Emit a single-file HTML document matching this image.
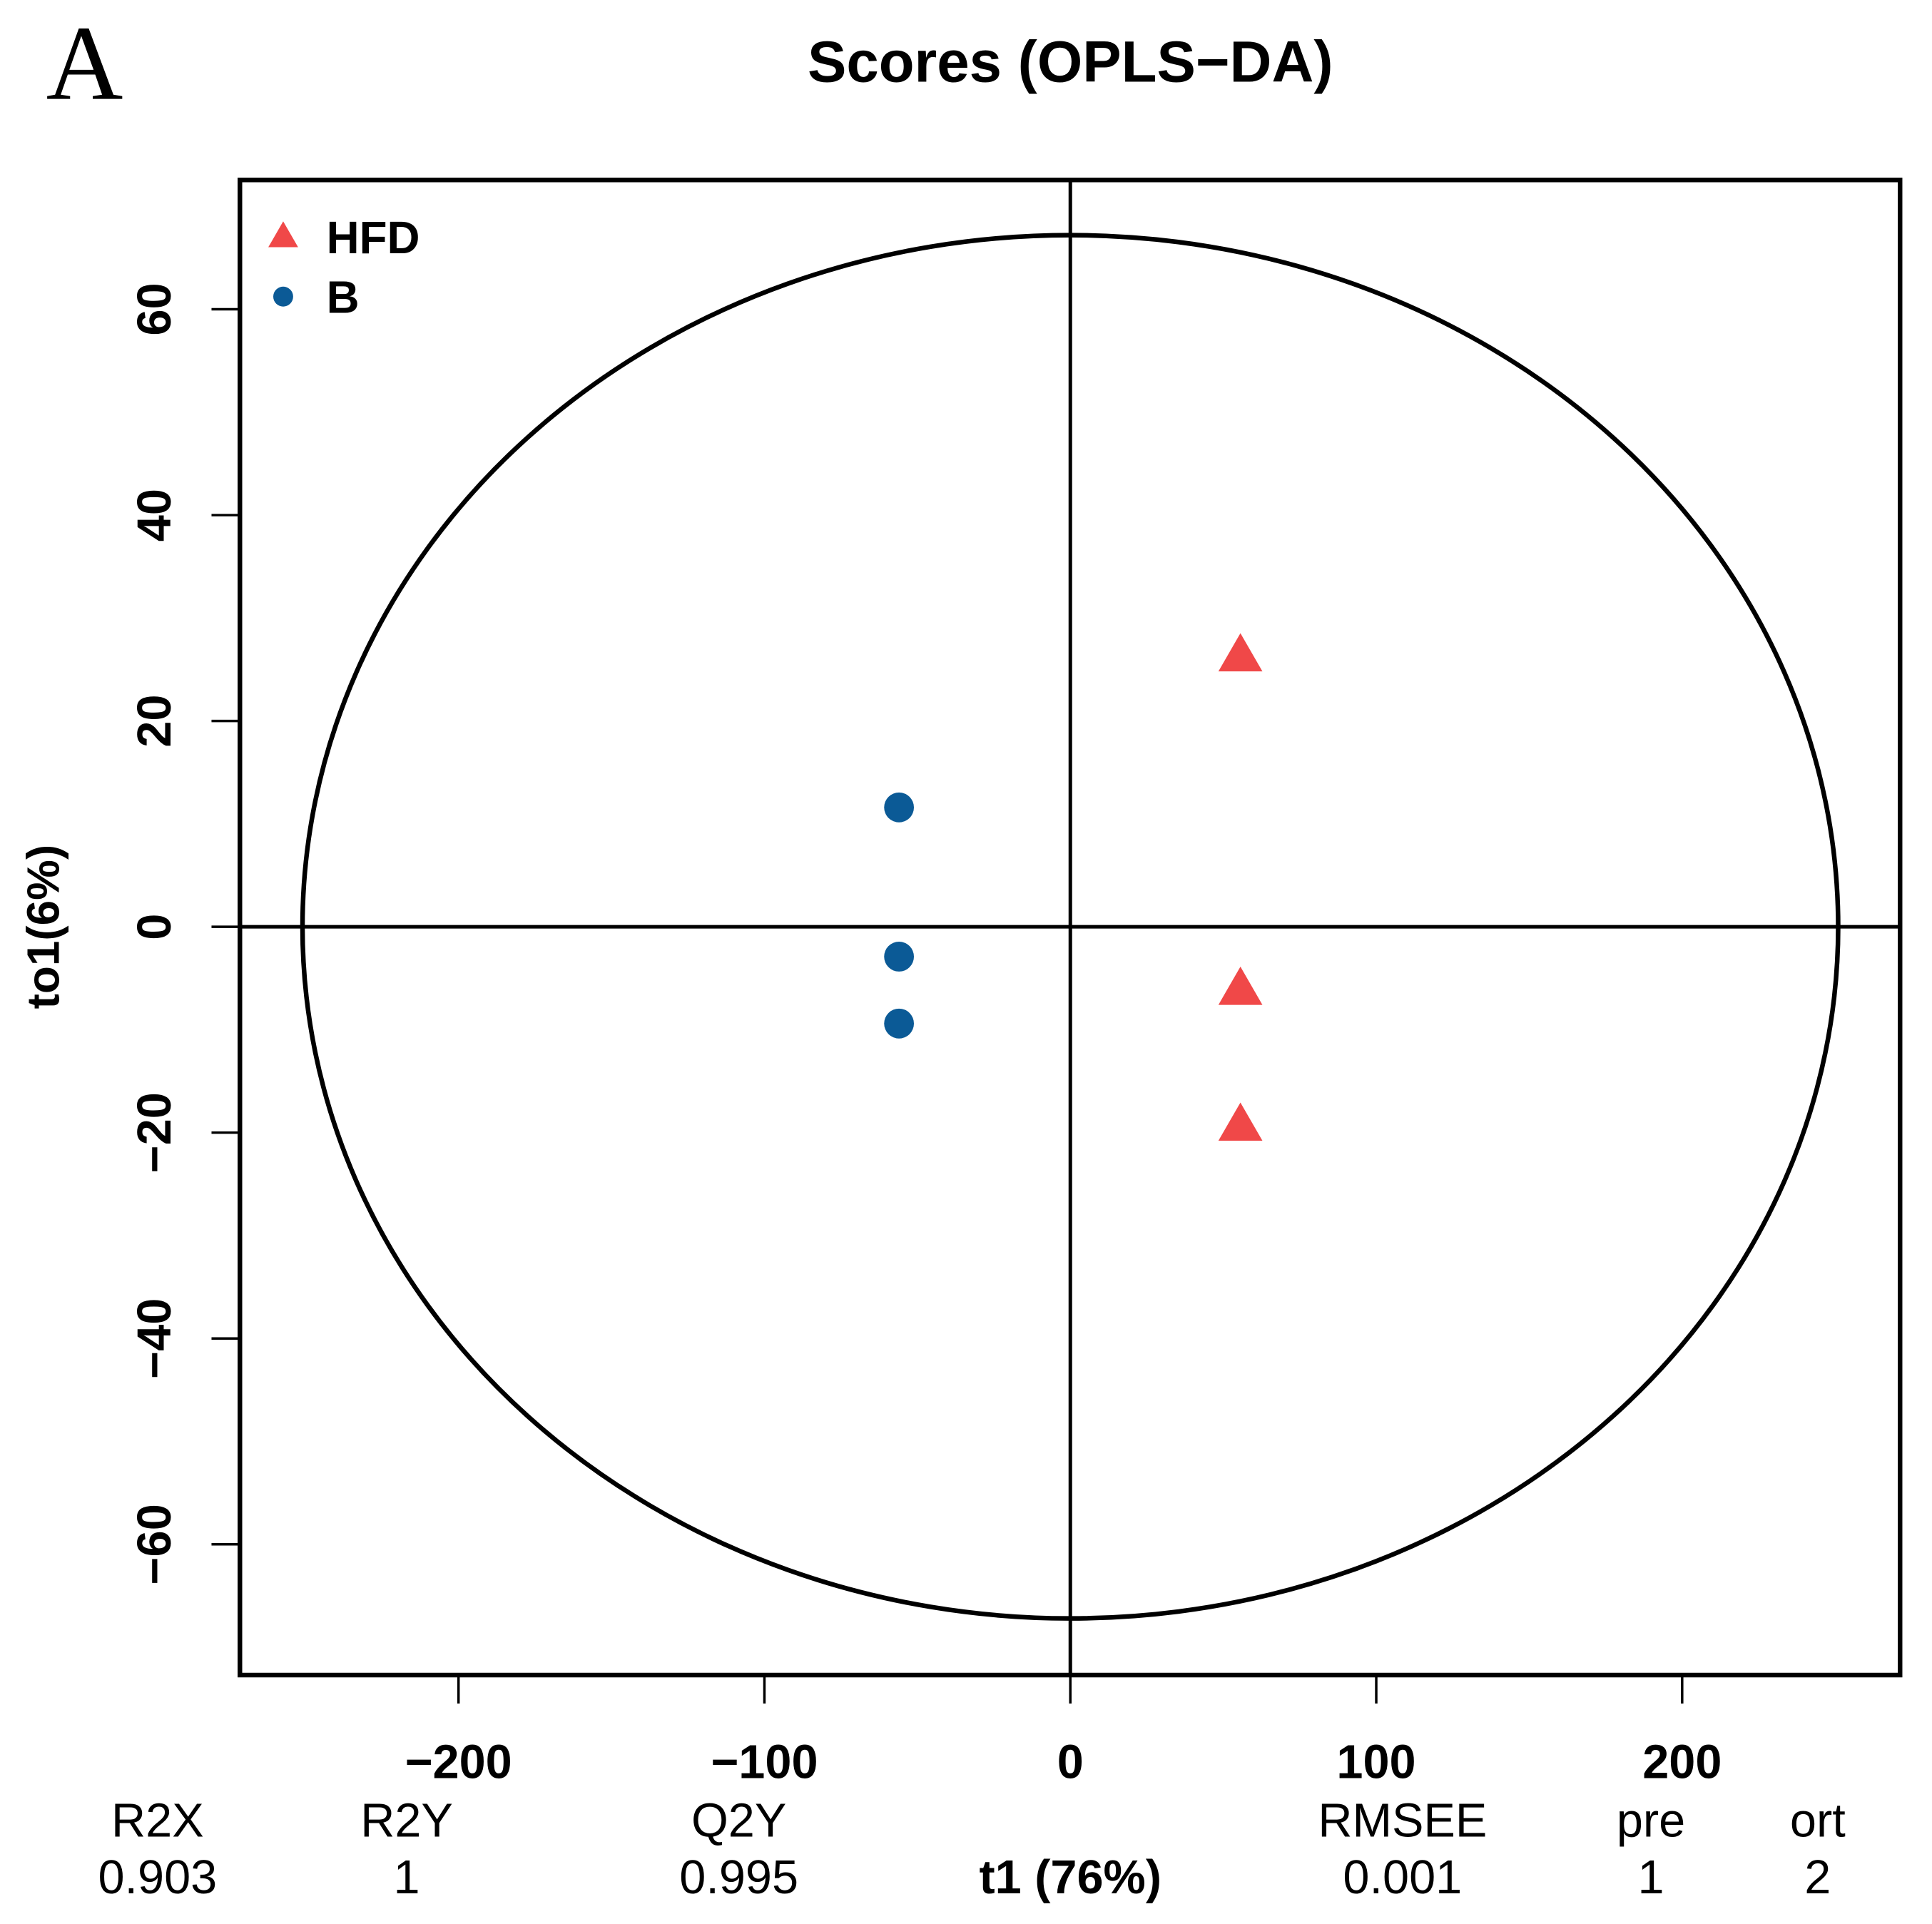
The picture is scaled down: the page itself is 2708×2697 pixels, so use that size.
<!DOCTYPE html>
<html><head><meta charset="utf-8"><style>
html,body{margin:0;padding:0;background:#fff;}
svg{display:block;font-family:"Liberation Sans",Arial,sans-serif;}
</style></head><body>
<svg id="chart" width="2708" height="2697" viewBox="0 0 2722 2705" preserveAspectRatio="none" xmlns="http://www.w3.org/2000/svg">
<rect width="2722" height="2705" fill="#fff"/>
<text x="65" y="139" font-family="Liberation Serif,serif" font-size="150" fill="#000">A</text>
<text x="1508" y="115" font-size="82" font-weight="bold" text-anchor="middle">Scores (OPLS−DA)</text>
<g id="plot"></g>
<text x="61" y="1303" font-size="64" font-weight="bold" text-anchor="middle" transform="rotate(-90 61 1303) translate(0 22)">to1(6%)</text>
<g font-size="67" text-anchor="middle">
<text x="222" y="2582">R2X</text>
<text x="573" y="2582">R2Y</text>
<text x="1041" y="2582">Q2Y</text>
<text x="1976" y="2582">RMSEE</text>
<text x="2326" y="2582">pre</text>
<text x="2561" y="2582">ort</text>
<text x="222" y="2662">0.903</text>
<text x="573" y="2662">1</text>
<text x="1041" y="2662">0.995</text>
<text x="1508" y="2662" font-weight="bold">t1 (76%)</text>
<text x="1976" y="2662">0.001</text>
<text x="2326" y="2662">1</text>
<text x="2561" y="2662">2</text>
</g>
</svg>
<script>
const xTicks = [-200, -100, 0, 100, 200];
const yTicks = [-60, -40, -20, 0, 20, 40, 60];
const bX = [-56, -56, -56];
const bY = [11.6, -2.9, -9.4];
const hfdX = [55.6, 55.6, 55.6];
const hfdY = [26.3, -6.1, -19.3];
const ellipseRx = 251;
const ellipseRy = 67.2;

const NS = 'http://www.w3.org/2000/svg';
const L = 338, R = 2677, T = 253, B = 2355;
const X0 = 1508, Y0 = 1303, KX = 4.31, KY = 14.47;
const sx = v => X0 + v * KX;
const sy = v => Y0 - v * KY;
const g = document.getElementById('plot');
function mk(tag, attrs) {
  const e = document.createElementNS(NS, tag);
  for (const k in attrs) e.setAttribute(k, attrs[k]);
  g.appendChild(e);
  return e;
}
let e;
e = mk('ellipse', {cx: sx(0), cy: sy(0), rx: ellipseRx * KX, ry: ellipseRy * KY, fill: 'none', stroke: '#000', 'stroke-width': 6.5});


e = mk('line', {x1: sx(0), x2: sx(0), y1: T, y2: B, stroke: '#000', 'stroke-width': 5});


e = mk('line', {x1: L, x2: R, y1: sy(0), y2: sy(0), stroke: '#000', 'stroke-width': 5});


e = mk('rect', {x: L, y: T, width: R - L, height: B - T, fill: 'none', stroke: '#000', 'stroke-width': 6.5});


xTicks.forEach(v => {
  e = mk('line', {x1: sx(v), x2: sx(v), y1: B, y2: B + 40, stroke: '#000', 'stroke-width': 3.5});
  
  
  e = mk('text', {x: sx(v), y: 2500, 'font-size': 67, 'font-weight': 'bold', 'text-anchor': 'middle'});
  e.textContent = v < 0 ? '−' + Math.abs(v) : String(v);
  
  
});
yTicks.forEach(v => {
  e = mk('line', {x1: L - 40, x2: L, y1: sy(v), y2: sy(v), stroke: '#000', 'stroke-width': 3.5});
  
  
  e = mk('text', {x: 240, y: sy(v), 'font-size': 67, 'font-weight': 'bold', 'text-anchor': 'middle', transform: 'rotate(-90 240 ' + sy(v) + ')'});
  e.textContent = v < 0 ? '−' + Math.abs(v) : String(v);
  
  
});
function tri(cx, cy, s) {
  const h = s * 0.866;
  return `${cx},${cy - h * 0.6} ${cx - s / 2},${cy + h * 0.4} ${cx + s / 2},${cy + h * 0.4}`;
}
bX.forEach((v, i) => {
  e = mk('circle', {cx: sx(v), cy: sy(bY[i]), r: 21, fill: '#0b5a96'});
  
  
});
hfdX.forEach((v, i) => {
  e = mk('polygon', {points: tri(sx(v), sy(hfdY[i]), 62), fill: '#f04848'});
  
  
});
e = mk('polygon', {points: tri(399, 333, 42), fill: '#f04848'});


e = mk('text', {x: 460, y: 356, 'font-size': 64, 'font-weight': 'bold'});
e.textContent = 'HFD';


e = mk('circle', {cx: 399, cy: 417, r: 14, fill: '#0b5a96'});


e = mk('text', {x: 460, y: 440, 'font-size': 64, 'font-weight': 'bold'});
e.textContent = 'B';


</script>
</body></html>
